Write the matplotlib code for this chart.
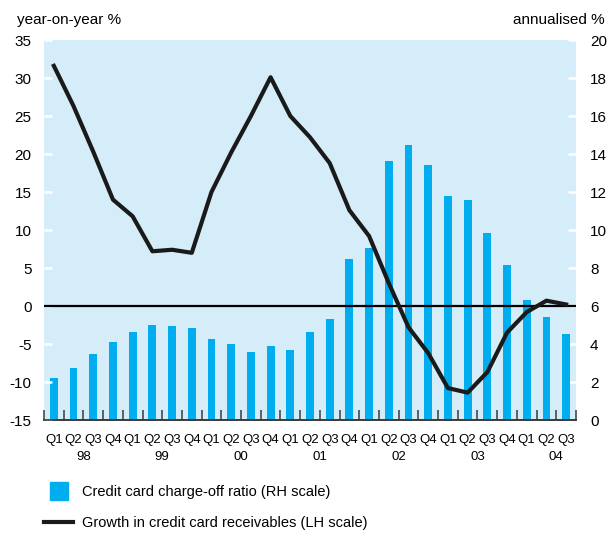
import matplotlib
matplotlib.use("Agg")
import matplotlib.pyplot as plt
from matplotlib.lines import Line2D
import numpy as np

plt.rcParams['font.family'] = ['Liberation Sans', 'DejaVu Sans']
plt.rcParams['axes.unicode_minus'] = False

# quarters Q1 98 .. Q3 04
quarters = ['Q1', 'Q2', 'Q3', 'Q4'] * 6 + ['Q1', 'Q2', 'Q3']
years = ['98', '99', '00', '01', '02', '03', '04']

# credit card charge-off ratio, annualised % (RH scale)
charge_off = [2.2, 2.75, 3.45, 4.1, 4.65, 5.0, 4.95, 4.85,
              4.25, 4.0, 3.6, 3.9, 3.7, 4.65, 5.3, 8.5,
              9.05, 13.65, 14.5, 13.4, 11.8, 11.6, 9.85, 8.15,
              6.3, 5.4, 4.55]

# growth in credit card receivables, year-on-year % (LH scale)
growth = [31.6, 26.3, 20.3, 14.0, 11.8, 7.2, 7.4, 7.0,
          15.0, 20.2, 25.0, 30.1, 25.0, 22.2, 18.8, 12.6,
          9.2, 3.0, -2.8, -6.2, -10.8, -11.4, -8.7, -3.5,
          -0.8, 0.7, 0.2]

bg = '#d5edf9'
bar_col = '#00aeef'
grey = '#3a3a3a'

fig = plt.figure(figsize=(6.07, 5.33), dpi=100)
ax = fig.add_axes([44/607, 113/533, 532/607, 380/533])
ax2 = ax.twinx()

# line axis on top, bars axis underneath carrying the background
ax.set_zorder(ax2.get_zorder() + 1)
ax.patch.set_visible(False)
ax2.patch.set_visible(True)
ax2.patch.set_facecolor(bg)

x = np.arange(len(quarters))
ax2.bar(x, charge_off, width=0.4, color=bar_col, zorder=2)
ax.axhline(0, color='black', lw=1.6, zorder=2)
ax.plot(x, growth, color='#1a1a1a', lw=3, solid_joinstyle='round', zorder=3)

ax.set_xlim(-0.5, len(quarters) - 0.5)
ax.set_ylim(-15, 35)
ax2.set_ylim(0, 20)

for a in (ax, ax2):
    for s in ('top', 'left', 'right'):
        a.spines[s].set_visible(False)
    a.spines['bottom'].set_color(grey)
    a.spines['bottom'].set_linewidth(1.2)

ax.set_yticks(np.arange(-15, 36, 5))
ax2.set_yticks(np.arange(0, 21, 2))
ax.tick_params(axis='y', direction='in', length=6, width=1.8, color='white',
               labelsize=11, pad=9)
ax2.tick_params(axis='y', direction='in', length=6, width=1.8, color='white',
                labelsize=11, pad=10)

ax.set_xticks(x)
ax.set_xticklabels(quarters, fontsize=9.5)
ax.set_xticks(np.arange(-0.5, len(quarters), 1), minor=True)
ax.tick_params(axis='x', which='major', length=0, pad=10)
ax.tick_params(axis='x', which='minor', direction='in', length=7,
               width=1.1, color=grey)
ax2.tick_params(axis='x', length=0)

for i, yr in enumerate(years):
    ax.text(1.5 + 4*i, -37/380, yr, transform=ax.get_xaxis_transform(),
            ha='center', va='center', fontsize=9.5)

fig.text(17/607, 1 - 20/533, 'year-on-year %', fontsize=11, va='center')
fig.text(605/607, 1 - 20/533, 'annualised %', fontsize=11, va='center',
         ha='right')

handles = [Line2D([], [], marker='s', markersize=12.5, linestyle='none',
                  color=bar_col),
           Line2D([], [], color='#1a1a1a', lw=3)]
labels = ['Credit card charge-off ratio (RH scale)',
          'Growth in credit card receivables (LH scale)']
fig.legend(handles, labels, loc='upper left',
           bbox_to_anchor=(44/607, 1 - 485/533), frameon=False,
           fontsize=10.5, handlelength=2.0, handletextpad=0.6,
           labelspacing=1.2, borderpad=0, borderaxespad=0)

fig.savefig('out.png', dpi=100, facecolor='white')
